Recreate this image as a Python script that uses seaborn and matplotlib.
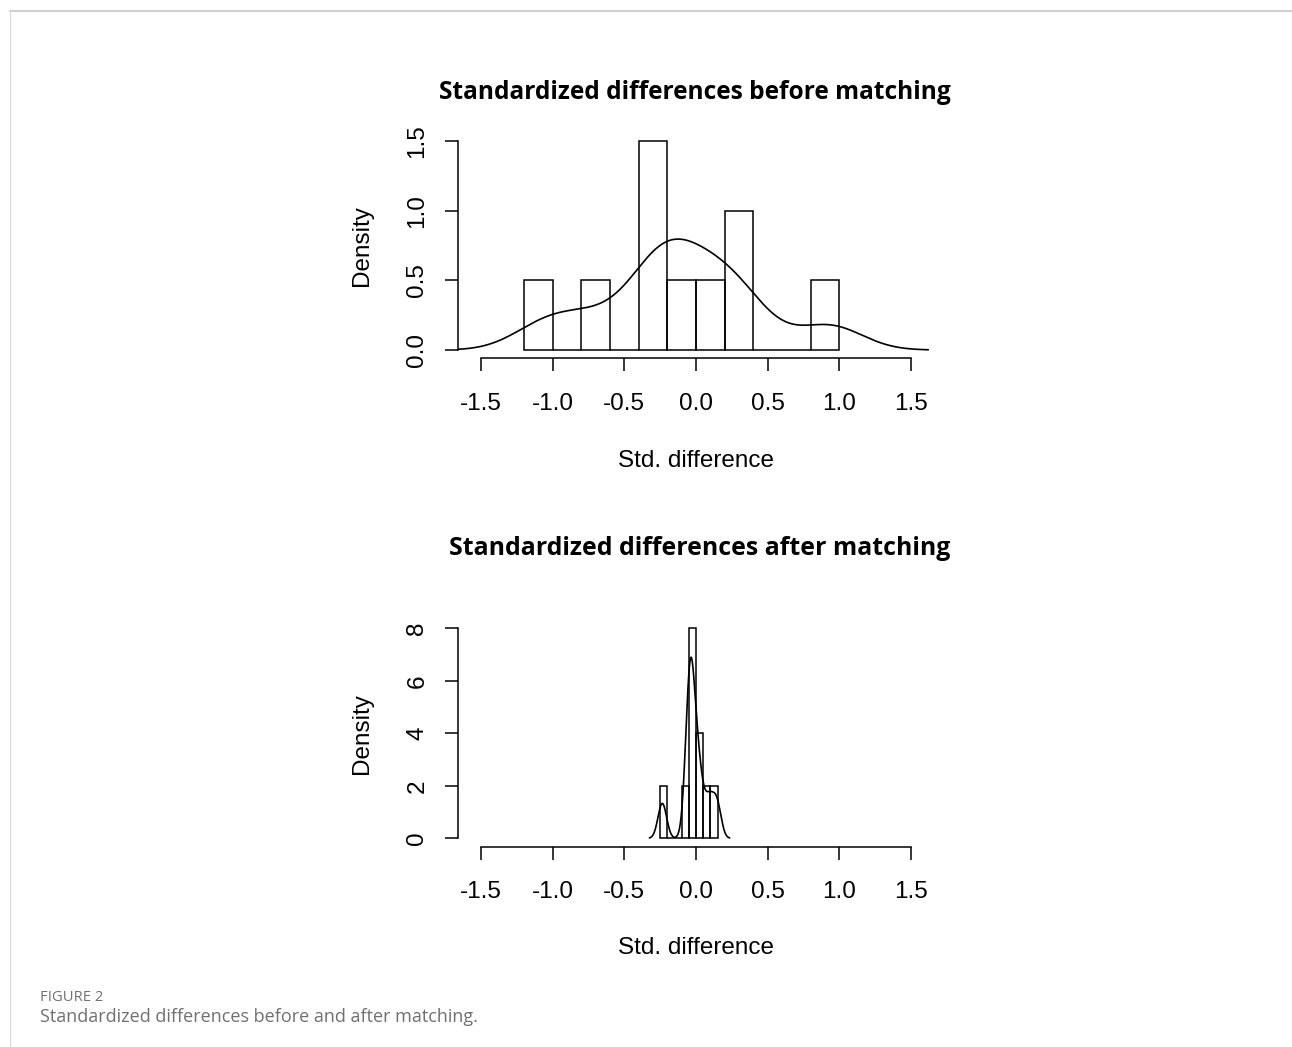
import numpy as np
import matplotlib
matplotlib.use('Agg')
import matplotlib.pyplot as plt
from matplotlib.lines import Line2D
import seaborn as sns

# ─── Data ───────────────────────────────────────────────────────────────────
std_diff_before = [-1.05, -0.72, -0.32, -0.26, -0.21, -0.08, 0.08, 0.24, 0.33, 0.93]
std_diff_after  = [-0.235, -0.055, -0.045, -0.04, -0.035, -0.025, 0.005, 0.03, 0.09, 0.145]
bins_before = [-1.2, -1.0, -0.8, -0.6, -0.4, -0.2, 0.0, 0.2, 0.4, 0.6, 0.8, 1.0]
bins_after  = [-0.25, -0.2, -0.15, -0.1, -0.05, 0.0, 0.05, 0.1, 0.15]
kde_bw_before = 0.23
kde_bw_after  = 0.03

x_ticks       = [-1.5, -1.0, -0.5, 0.0, 0.5, 1.0, 1.5]
x_tick_labels = ['-1.5', '-1.0', '-0.5', '0.0', '0.5', '1.0', '1.5']
y_ticks_before       = [0.0, 0.5, 1.0, 1.5]
y_tick_labels_before = ['0.0', '0.5', '1.0', '1.5']
y_ticks_after        = [0, 2, 4, 6, 8]
y_tick_labels_after  = ['0', '2', '4', '6', '8']

title_before = 'Standardized differences before matching'
title_after  = 'Standardized differences after matching'
x_label = 'Std. difference'
y_label = 'Density'
caption_head = 'FIGURE 2'
caption_text = 'Standardized differences before and after matching.'

# ─── Style ──────────────────────────────────────────────────────────────────
sns.set_style('ticks')
plt.rcParams['font.family'] = ['Liberation Sans', 'DejaVu Sans']
plt.rcParams['text.color'] = 'black'

W, H = 1292, 1047
fig = plt.figure(figsize=(W / 100, H / 100), dpi=100)
renderer = fig.canvas.get_renderer()


def px_rect(left, top, right, bottom):
    return [left / W, 1 - bottom / H, (right - left) / W, (bottom - top) / H]


def fit_text(x, y, s, target_w, ha='center', **kw):
    t = fig.text(x / W, 1 - y / H, s, ha=ha, va='baseline', fontsize=20, **kw)
    w = t.get_window_extent(renderer).width
    t.set_fontsize(20 * target_w / w)
    return t


def draw_panel(ax, vals, bins, bw, yticks, ylabels, xlab_y):
    ymax = yticks[-1]
    sns.histplot(x=vals, bins=bins, stat='density', fill=False,
                 color='black', linewidth=1.1, ax=ax)
    sns.kdeplot(x=vals, bw_method=bw / np.std(vals, ddof=1), cut=3,
                gridsize=512, color='black', linewidth=1.2, ax=ax)
    ax.set_xlim(-1.66, 1.66)
    ax.set_ylim(-0.04 * ymax, 1.04 * ymax)
    sns.despine(ax=ax)
    ax.spines['left'].set_bounds(0, ymax)
    ax.spines['bottom'].set_bounds(x_ticks[0], x_ticks[-1])
    for side in ['left', 'bottom']:
        ax.spines[side].set_linewidth(1.1)
        ax.spines[side].set_color('black')
    ax.set_xticks(x_ticks)
    ax.set_xticklabels(x_tick_labels)
    ax.set_yticks(yticks)
    ax.set_yticklabels(ylabels)
    ax.tick_params(direction='out', length=9.4, width=1.1, pad=15.5,
                   labelsize=17.5, colors='black')
    ax.tick_params(axis='y', labelrotation=90, pad=12)
    for lab in ax.get_yticklabels():
        lab.set_va('center')
    ax.set_xlabel('')
    ax.set_ylabel('')
    ax.text(0.5, xlab_y, x_label, transform=ax.transAxes, ha='center',
            va='center', fontsize=17.5, color='black')
    ax.text(-0.2017, 0.5, y_label, transform=ax.transAxes, ha='center',
            va='center', rotation=90, fontsize=17.5, color='black')


# ─── Panels ─────────────────────────────────────────────────────────────────
ax1 = fig.add_axes(px_rect(458, 132.5, 934, 358.4))
draw_panel(ax1, std_diff_before, bins_before, kde_bw_before,
           y_ticks_before, y_tick_labels_before, -(461 - 358.4) / 225.9)

ax2 = fig.add_axes(px_rect(458, 619.9, 934, 846.7))
draw_panel(ax2, std_diff_after, bins_after, kde_bw_after,
           y_ticks_after, y_tick_labels_after, -(948 - 846.7) / 226.8)

# ─── Titles ─────────────────────────────────────────────────────────────────
title_font = ['Open Sans', 'DejaVu Sans']
fit_text(695, 99, title_before, 513, fontweight='bold', family=title_font,
         color='black')
fit_text(699.5, 555, title_after, 501, fontweight='bold', family=title_font,
         color='black')

# ─── Caption and frame ──────────────────────────────────────────────────────
cap_font = ['Open Sans', 'DejaVu Sans']
fit_text(40, 1001, caption_head, 63, ha='left', color='#707070', family=cap_font)
fit_text(40, 1022, caption_text, 436, ha='left', color='#707070', family=cap_font)

fig.add_artist(Line2D([10 / W, 1], [1 - 11 / H, 1 - 11 / H], color='#d0d0d0',
                      linewidth=1.5, transform=fig.transFigure))
fig.add_artist(Line2D([10 / W, 10 / W], [1 - 11 / H, 0], color='#d8d8d8',
                      linewidth=0.8, transform=fig.transFigure))

fig.savefig('out.png', dpi=100)
